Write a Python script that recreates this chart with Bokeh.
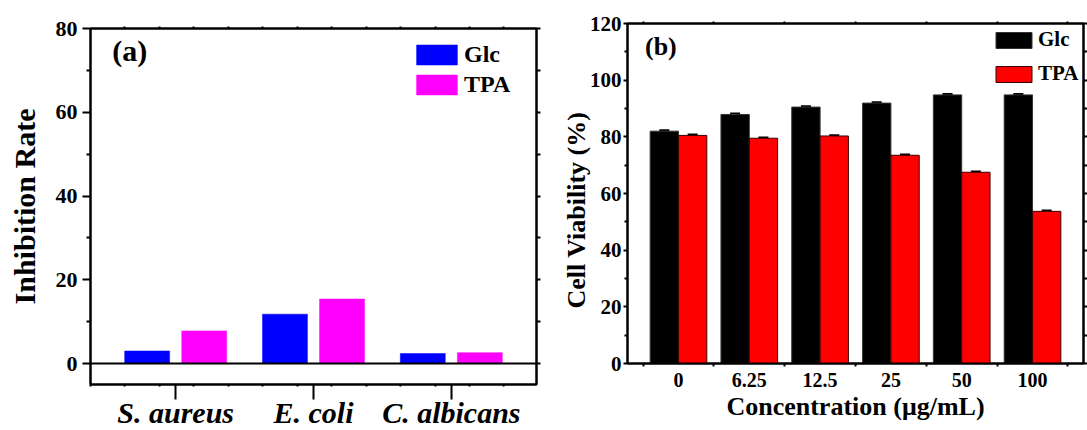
import numpy as np
import pandas as pd
from bokeh.plotting import figure
from bokeh.models import (ColumnDataSource, Range1d, FixedTicker, LinearAxis, Span,
                          Legend, LegendItem, Label, Whisker, TeeHead, Title)
from bokeh.transform import dodge
from bokeh.embed import file_html
from bokeh.resources import INLINE

# ---------------- data ----------------
# panel (a): antimicrobial inhibition rate
microbes = ["S. aureus", "E. coli", "C. albicans"]
inhib_glc = [3.0, 11.8, 2.4]
inhib_tpa = [7.8, 15.4, 2.6]
inhib_ticks = [0, 20, 40, 60, 80]
inhib_minor = [10, 30, 50, 70]

# panel (b): cell viability
concentrations = ["0", "6.25", "12.5", "25", "50", "100"]
viab_glc = [82.0, 87.9, 90.5, 91.9, 94.8, 94.8]
viab_glc_err = [0.3, 0.3, 0.3, 0.3, 0.3, 0.3]
viab_tpa = [80.5, 79.5, 80.3, 73.5, 67.5, 53.7]
viab_tpa_err = [0.3, 0.3, 0.3, 0.3, 0.3, 0.3]
viab_ticks = [0, 20, 40, 60, 80, 100, 120]
viab_minor = [10, 30, 50, 70, 90, 110]

FONT = "Liberation Serif"


def style_axis(ax, label_size, tick_out, tick_in=0, minor_out=4, minor_in=0):
    ax.axis_line_width = 2
    ax.axis_line_color = "black"
    ax.major_tick_line_width = 2
    ax.minor_tick_line_width = 2
    ax.major_tick_out = tick_out
    ax.major_tick_in = tick_in
    ax.minor_tick_out = minor_out
    ax.minor_tick_in = minor_in
    ax.major_label_text_font = FONT
    ax.major_label_text_font_style = "bold"
    ax.major_label_text_color = "black"
    ax.major_label_text_font_size = label_size
    ax.axis_label_text_font = FONT
    ax.axis_label_text_font_style = "bold"
    ax.axis_label_text_color = "black"


def tick_only_axis(ticks, length):
    # axis drawing only tick marks (no labels): all marks handled as minor ticks
    ax = LinearAxis(ticker=FixedTicker(ticks=[], minor_ticks=list(ticks)))
    style_axis(ax, "12px", 0, minor_out=length)
    return ax


# ---------------- panel (a) ----------------
pos_a = list(range(1, len(microbes) + 1))
src_a = ColumnDataSource(pd.DataFrame({"pos": pos_a, "glc": inhib_glc, "tpa": inhib_tpa}))

# canvas a few px taller than the window: only empty border falls below it
pa = figure(width=545, height=436, output_backend="svg", toolbar_location=None,
            x_range=Range1d(0.382, 3.618), y_range=Range1d(-5, 80),
            min_border_left=90, min_border_right=9, min_border_top=28, min_border_bottom=52)
pa.xgrid.visible = False
pa.ygrid.visible = False
pa.outline_line_color = "black"
pa.outline_line_width = 2
pa.background_fill_color = "white"
pa.border_fill_color = "white"

ra1 = pa.vbar(x=dodge("pos", -0.207), top="glc", width=0.326, source=src_a,
              fill_color="#0000FF", line_color="#0000FF", line_width=0.5)
ra2 = pa.vbar(x=dodge("pos", 0.207), top="tpa", width=0.326, source=src_a,
              fill_color="#FF00FF", line_color="#FF00FF", line_width=0.5)
pa.add_layout(Span(location=0, dimension="width", line_color="black", line_width=2))

xa = pa.xaxis[0]
xa.ticker = FixedTicker(ticks=pos_a, minor_ticks=list(np.arange(0.382, 3.62, 0.25)))
xa.major_label_overrides = {p: m for p, m in zip(pos_a, microbes)}
style_axis(xa, "30px", 15, minor_out=2)
xa.major_label_text_font_style = "bold italic"
xa.major_label_standoff = -4

ya = pa.yaxis[0]
ya.ticker = FixedTicker(ticks=inhib_ticks, minor_ticks=inhib_minor)
style_axis(ya, "22px", 8, minor_out=4)
ya.major_label_standoff = 5
ya.axis_label = "Inhibition Rate"
ya.axis_label_text_font_size = "30px"
ya.axis_label_standoff = 12

pa.add_layout(tick_only_axis(inhib_ticks + inhib_minor, 4), "right")
pa.add_layout(tick_only_axis(np.arange(0.632, 3.6, 0.25), 2), "above")

leg_a = Legend(items=[LegendItem(label="Glc", renderers=[ra1]),
                      LegendItem(label="TPA", renderers=[ra2])],
               location=(321, 286), orientation="vertical",
               glyph_width=51, glyph_height=25, label_height=20, label_standoff=2,
               spacing=3, padding=0, margin=0,
               label_text_font=FONT, label_text_font_style="bold", label_text_font_size="24px",
               label_text_color="black",
               border_line_color=None, background_fill_alpha=0)
pa.add_layout(leg_a)
pa.add_layout(Label(x=0.54, y=78.6, text="(a)", text_font=FONT, text_font_style="bold",
                    text_font_size="30px", text_baseline="top", text_color="black"))

# ---------------- panel (b) ----------------
pos_b = list(range(1, len(concentrations) + 1))
df_b = pd.DataFrame({"pos": pos_b, "glc": viab_glc, "tpa": viab_tpa,
                     "glc_err": viab_glc_err, "tpa_err": viab_tpa_err})
df_b["glc_up"] = df_b.glc + df_b.glc_err
df_b["glc_lo"] = df_b.glc - df_b.glc_err
df_b["tpa_up"] = df_b.tpa + df_b.tpa_err
df_b["tpa_lo"] = df_b.tpa - df_b.tpa_err
src_b = ColumnDataSource(df_b)

pb = figure(width=542, height=430, output_backend="svg", toolbar_location=None,
            x_range=Range1d(0.28, 6.72), y_range=Range1d(0, 120),
            min_border_left=82, min_border_right=4, min_border_top=23, min_border_bottom=67)
pb.xgrid.visible = False
pb.ygrid.visible = False
pb.outline_line_color = "black"
pb.outline_line_width = 2
pb.background_fill_color = "white"
pb.border_fill_color = "white"

rb1 = pb.vbar(x=dodge("pos", -0.2), top="glc", width=0.4, source=src_b,
              fill_color="black", line_color="#333333", line_width=1)
rb2 = pb.vbar(x=dodge("pos", 0.2), top="tpa", width=0.4, source=src_b,
              fill_color="#FF0000", line_color="#3a0000", line_width=1)
pb.add_layout(Whisker(base=dodge("pos", -0.2), upper="glc_up", lower="glc_lo", source=src_b,
                      line_color="black", line_width=2,
                      upper_head=TeeHead(size=10, line_width=2, line_color="black"),
                      lower_head=TeeHead(size=10, line_width=2, line_color="black")))
pb.add_layout(Whisker(base=dodge("pos", 0.2), upper="tpa_up", lower="tpa_lo", source=src_b,
                      line_color="black", line_width=2,
                      upper_head=TeeHead(size=10, line_width=2, line_color="black"),
                      lower_head=TeeHead(size=10, line_width=2, line_color="black")))

minor_x_b = [p + 0.5 for p in [0] + pos_b]
xb = pb.xaxis[0]
xb.ticker = FixedTicker(ticks=pos_b, minor_ticks=minor_x_b)
xb.major_label_overrides = {p: c for p, c in zip(pos_b, concentrations)}
style_axis(xb, "20px", 0, minor_out=3)
xb.major_label_standoff = 6
xb.axis_label = "Concentration (μg/mL)"
xb.axis_label_text_font_size = "26px"
xb.axis_label_standoff = 2

yb = pb.yaxis[0]
yb.ticker = FixedTicker(ticks=viab_ticks, minor_ticks=viab_minor)
style_axis(yb, "21px", 4, minor_out=3)
yb.major_label_standoff = 2

# y title placed off-centre (lower), as in the original figure
pb.add_layout(Title(text="Cell Viability (%)", align="left", offset=55, standoff=-9,
                    text_font=FONT, text_font_style="bold", text_font_size="26px",
                    text_color="black"), "left")

pb.add_layout(tick_only_axis(viab_ticks + viab_minor, 4), "right")
pb.add_layout(tick_only_axis(minor_x_b, 2), "above")

leg_b = Legend(items=[LegendItem(label="Glc", renderers=[rb1]),
                      LegendItem(label="TPA", renderers=[rb2])],
               location=(364, 277), orientation="vertical",
               glyph_width=45, glyph_height=20, label_height=16, label_standoff=2,
               spacing=9, padding=0, margin=0,
               label_text_font=FONT, label_text_font_style="bold", label_text_font_size="21px",
               label_text_color="black",
               border_line_color=None, background_fill_alpha=0)
pb.add_layout(leg_b)
pb.add_layout(Label(x=0.527, y=117.1, text="(b)", text_font=FONT, text_font_style="bold",
                    text_font_size="26px", text_baseline="top", text_color="black"))

# the two panels are independent roots placed side by side (no frame alignment)
TEMPLATE = """
{% block postamble %}
<style>
  html, body { overflow: hidden; }
  body { display: flex !important; flex-direction: row; align-items: flex-start; margin: 0; }
</style>
{% endblock %}
"""

open("out.html", "w").write(file_html([pa, pb], INLINE, template=TEMPLATE))
